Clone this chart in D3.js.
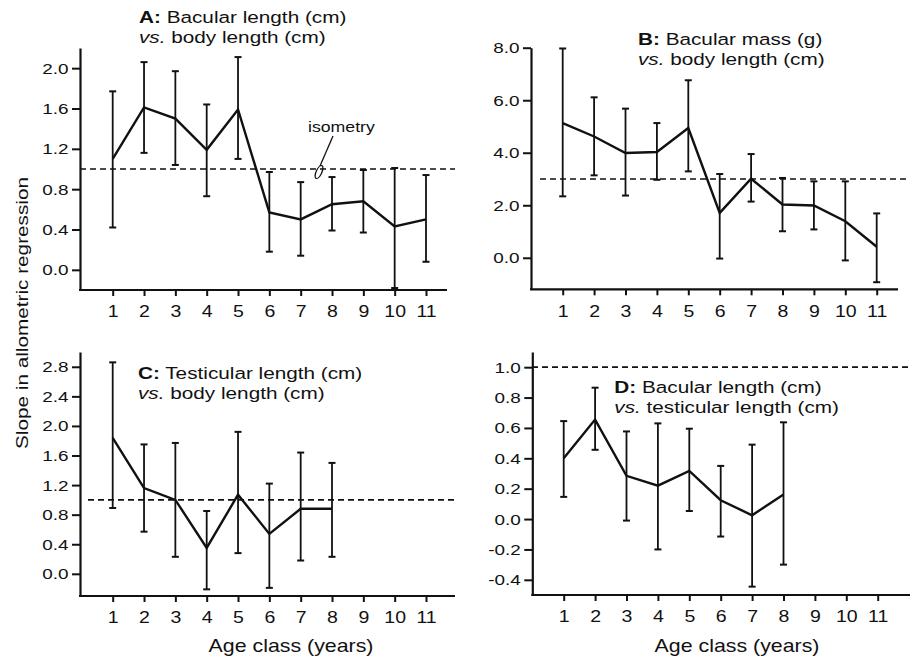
<!DOCTYPE html>
<html>
<head>
<meta charset="utf-8">
<script src="https://cdn.jsdelivr.net/npm/d3@7"></script>
<style>
  body { margin: 0; background: #fff; }
  text { font-family: "Liberation Sans", Arial, Helvetica, sans-serif; fill: #111; }
</style>
</head>
<body>
<div id="chart"></div>
<script>
const WIDTH = 910;
const HEIGHT = 659;
const STRETCH = 1.22; // the original lettering is wide, so text is stretched along its run

// age classes on the x axis
const ageClasses = [1, 2, 3, 4, 5, 6, 7, 8, 9, 10, 11];

// A: bacular length vs body length
const slopeA = [1.10, 1.61, 1.50, 1.19, 1.59, 0.57, 0.50, 0.65, 0.68, 0.43, 0.50];
const upperA = [1.77, 2.06, 1.97, 1.64, 2.11, 0.97, 0.87, 0.92, 0.99, 1.01, 0.94];
const lowerA = [0.42, 1.16, 1.04, 0.73, 1.10, 0.18, 0.14, 0.39, 0.37, -0.18, 0.08];

// B: bacular mass vs body length
const slopeB = [5.13, 4.62, 3.99, 4.03, 4.94, 1.71, 3.01, 2.03, 1.99, 1.39, 0.42];
const upperB = [7.97, 6.11, 5.68, 5.13, 6.76, 3.19, 3.95, 3.04, 2.91, 2.91, 1.69];
const lowerB = [2.34, 3.14, 2.37, 2.97, 3.29, -0.03, 2.14, 1.01, 1.08, -0.10, -0.93];

// C: testicular length vs body length
const slopeC = [1.84, 1.16, 1.00, 0.35, 1.07, 0.54, 0.88, 0.88];
const upperC = [2.86, 1.75, 1.77, 0.85, 1.92, 1.22, 1.64, 1.50];
const lowerC = [0.89, 0.57, 0.23, -0.21, 0.28, -0.19, 0.18, 0.23];

// D: bacular length vs testicular length
const slopeD = [0.40, 0.655, 0.285, 0.22, 0.317, 0.124, 0.025, 0.162];
const upperD = [0.645, 0.865, 0.577, 0.63, 0.595, 0.35, 0.49, 0.637];
const lowerD = [0.146, 0.456, -0.01, -0.20, 0.053, -0.115, -0.445, -0.30];

const yTicksA = [0, 0.4, 0.8, 1.2, 1.6, 2.0];
const yTicksB = [0, 2, 4, 6, 8];
const yTicksC = [0, 0.4, 0.8, 1.2, 1.6, 2.0, 2.4, 2.8];
const yTicksD = [-0.4, -0.2, 0, 0.2, 0.4, 0.6, 0.8, 1.0];

const isometry = [1.0, 3.0, 1.0, 1.0];

const titleBold = ["A:", "B:", "C:", "D:"];
const titleLine1 = [" Bacular length (cm)", " Bacular mass (g)", " Testicular length (cm)", " Bacular length (cm)"];
const titleLine2 = [" body length (cm)", " body length (cm)", " body length (cm)", " testicular length (cm)"];
const yLabel = "Slope in allometric regression";
const xLabel = "Age class (years)";
const isoLabel = "isometry";

// panel geometry (pixels)
const panels = [
  { left: 80, right: 447, bottom: 290, top: 48, x1: 112.7, x11: 426, yDom: [-0.2, 2.2],
    slope: slopeA, upper: upperA, lower: lowerA, ticks: yTicksA, tx: 139, ty: 23, dashFrom: 80, dashTo: 455 },
  { left: 531, right: 898, bottom: 289.3, top: 47.7, x1: 562.7, x11: 876.7, yDom: [-1.2, 8.0],
    slope: slopeB, upper: upperB, lower: lowerB, ticks: yTicksB, tx: 638, ty: 45, dashFrom: 540, dashTo: 910 },
  { left: 80, right: 455, bottom: 596, top: 352, x1: 112.7, x11: 426, yDom: [-0.3, 3.0],
    slope: slopeC, upper: upperC, lower: lowerC, ticks: yTicksC, tx: 138, ty: 379, dashFrom: 88, dashTo: 455 },
  { left: 532.3, right: 910, bottom: 595, top: 352, x1: 563.7, x11: 877.7, yDom: [-0.5, 1.1],
    slope: slopeD, upper: upperD, lower: lowerD, ticks: yTicksD, tx: 614.3, ty: 393.3, dashFrom: 532, dashTo: 910 }
];

const svg = d3.select("#chart").append("svg")
  .attr("width", WIDTH)
  .attr("height", HEIGHT);

const fmt = d => d.toFixed(1);

panels.forEach(function(p, i) {
  let g = svg.append("g").attr("class", "panel panel" + i);
  let x = d3.scaleLinear().domain([1, 11]).range([p.x1, p.x11]);
  let y = d3.scaleLinear().domain(p.yDom).range([p.bottom, p.top]);

  // isometry reference
  g.append("line")
    .attr("x1", p.dashFrom).attr("x2", p.dashTo)
    .attr("y1", y(isometry[i])).attr("y2", y(isometry[i]))
    .attr("stroke", "#111")
    .attr("stroke-width", 1.7)
    .attr("stroke-dasharray", "6,4");

  // x axis
  let xAxis = d3.axisBottom(x).tickValues(ageClasses).tickSize(6).tickSizeOuter(0).tickPadding(10);
  let xg = g.append("g")
    .attr("class", "x axis")
    .attr("transform", "translate(0," + p.bottom + ")")
    .call(xAxis);
  xg.select(".domain").remove();
  xg.selectAll(".tick line").attr("stroke", "#111").attr("stroke-width", 2);
  xg.selectAll(".tick text")
    .style("font-size", "16px")
    .attr("fill", "#111")
    .attr("transform", "scale(" + STRETCH + ",1)");
  g.append("line")
    .attr("x1", p.left - 1).attr("x2", p.right)
    .attr("y1", p.bottom).attr("y2", p.bottom)
    .attr("stroke", "#111").attr("stroke-width", 2.2);

  // y axis
  let yAxis = d3.axisLeft(y).tickValues(p.ticks).tickFormat(fmt).tickSize(8).tickSizeOuter(0).tickPadding(3);
  let yg = g.append("g")
    .attr("class", "y axis")
    .attr("transform", "translate(" + p.left + ",0)")
    .call(yAxis);
  yg.select(".domain").attr("stroke", "#111").attr("stroke-width", 2.2);
  yg.selectAll(".tick line").attr("stroke", "#111").attr("stroke-width", 2);
  yg.selectAll(".tick text")
    .style("font-size", "15.5px")
    .attr("fill", "#111")
    .attr("x", -11.5 / STRETCH)
    .attr("transform", "scale(" + STRETCH + ",1)");

  let n = p.slope.length;
  let ages = ageClasses.slice(0, n);

  // error bars
  let bars = g.append("g").attr("class", "errorbars");
  bars.selectAll("line.bar").data(ages).enter().append("line")
    .attr("class", "bar")
    .attr("x1", d => x(d)).attr("x2", d => x(d))
    .attr("y1", (d, j) => y(p.lower[j])).attr("y2", (d, j) => y(p.upper[j]))
    .attr("stroke", "#111").attr("stroke-width", 1.8);
  bars.selectAll("line.capTop").data(ages).enter().append("line")
    .attr("class", "capTop")
    .attr("x1", d => x(d) - 3.5).attr("x2", d => x(d) + 3.5)
    .attr("y1", (d, j) => y(p.upper[j])).attr("y2", (d, j) => y(p.upper[j]))
    .attr("stroke", "#111").attr("stroke-width", 2);
  bars.selectAll("line.capBot").data(ages).enter().append("line")
    .attr("class", "capBot")
    .attr("x1", d => x(d) - 3.5).attr("x2", d => x(d) + 3.5)
    .attr("y1", (d, j) => y(p.lower[j])).attr("y2", (d, j) => y(p.lower[j]))
    .attr("stroke", "#111").attr("stroke-width", 2);

  // slope line
  let line = d3.line().x(d => x(d)).y((d, j) => y(p.slope[j]));
  g.append("path")
    .datum(ages)
    .attr("d", line)
    .attr("fill", "none")
    .attr("stroke", "#111")
    .attr("stroke-width", 2.4)
    .attr("stroke-linejoin", "miter");

  // title
  let t1 = g.append("text")
    .attr("transform", "translate(" + p.tx + "," + p.ty + ") scale(" + STRETCH + ",1)")
    .style("font-size", "17px");
  t1.append("tspan").style("font-weight", "bold").text(titleBold[i]);
  t1.append("tspan").text(titleLine1[i]);
  let t2 = g.append("text")
    .attr("transform", "translate(" + p.tx + "," + (p.ty + 20) + ") scale(" + STRETCH + ",1)")
    .style("font-size", "17px");
  t2.append("tspan").style("font-style", "italic").text("vs.");
  t2.append("tspan").text(titleLine2[i]);
});

// isometry annotation on panel A
svg.append("text")
  .attr("transform", "translate(308,132) scale(" + STRETCH + ",1)")
  .style("font-size", "14.5px")
  .text(isoLabel);
svg.append("line")
  .attr("x1", 333).attr("y1", 136).attr("x2", 320).attr("y2", 166)
  .attr("stroke", "#111").attr("stroke-width", 1.3);
svg.append("ellipse")
  .attr("transform", "translate(319,172) rotate(25)")
  .attr("rx", 2.8).attr("ry", 7)
  .attr("fill", "none").attr("stroke", "#111").attr("stroke-width", 1.3);

// shared axis labels
svg.append("text")
  .attr("transform", "translate(28,313) rotate(-90) scale(" + STRETCH + ",1)")
  .attr("text-anchor", "middle")
  .style("font-size", "17px")
  .text(yLabel);
[291, 737].forEach(function(cx) {
  svg.append("text")
    .attr("transform", "translate(" + cx + ",652) scale(" + STRETCH + ",1)")
    .attr("text-anchor", "middle")
    .style("font-size", "17.5px")
    .text(xLabel);
});
</script>
</body>
</html>
